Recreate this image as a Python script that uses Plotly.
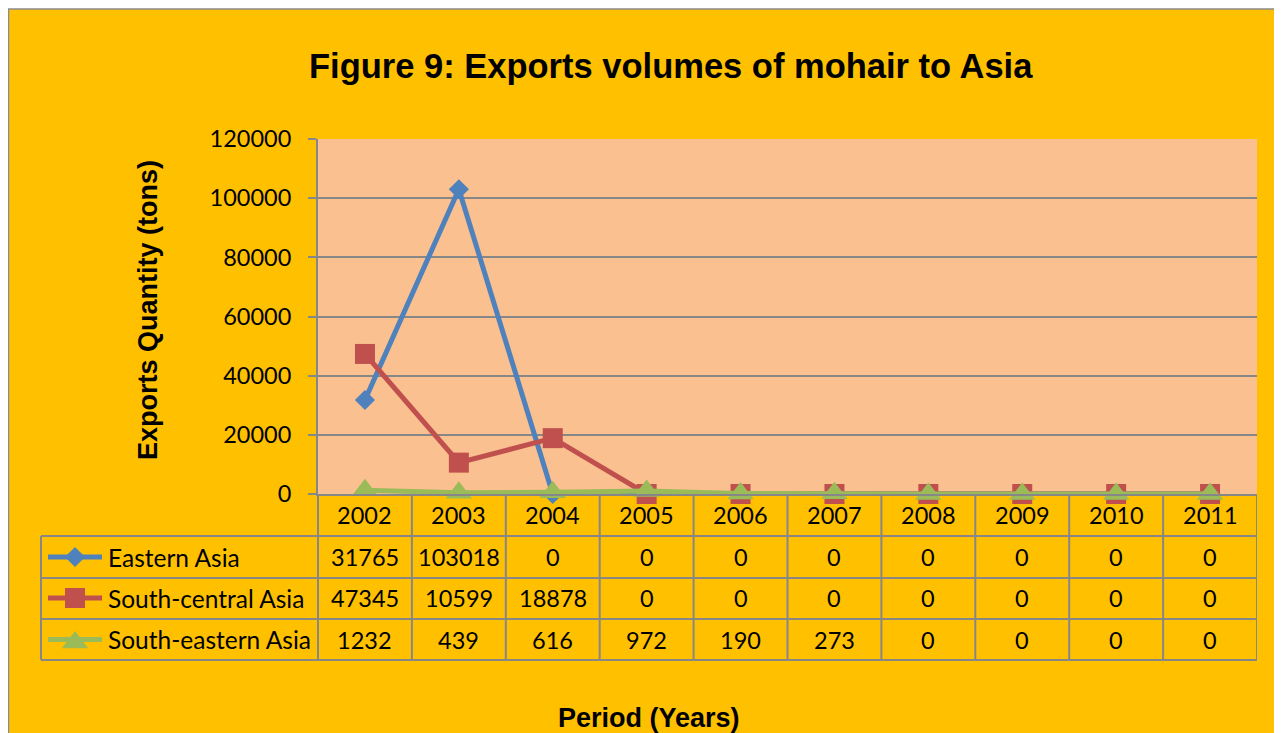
import plotly.graph_objects as go

years = ["2002", "2003", "2004", "2005", "2006", "2007", "2008", "2009", "2010", "2011"]
series_names = ["Eastern Asia", "South-central Asia", "South-eastern Asia"]
eastern_asia = [31765, 103018, 0, 0, 0, 0, 0, 0, 0, 0]
south_central_asia = [47345, 10599, 18878, 0, 0, 0, 0, 0, 0, 0]
south_eastern_asia = [1232, 439, 616, 972, 190, 273, 0, 0, 0, 0]
y_ticks = [0, 20000, 40000, 60000, 80000, 100000, 120000]

W, H = 1282, 733
OFF = 8  # page body margin
def fx(p):
    return (p - OFF) / W
def fy(p):
    return 1 - (p - OFF) / H

GRID = "#878787"
YELLOW = "#FFC000"
PEACH = "#FAC090"
colors = ["#4F81BD", "#C0504D", "#9BBB59"]
symbols = ["diamond", "square", "triangle-up"]
msizes = [15.5, 20, 23]
series = [eastern_asia, south_central_asia, south_eastern_asia]

PL, PR, PT, PB = 318, 1257, 139, 494
row_lines = [536, 578, 619, 660]
row_centers = [557, 598, 639.5]
header_center = 515
xs = list(range(len(years)))

fig = go.Figure()

for name, vals, c, s, ms in zip(series_names, series, colors, symbols, msizes):
    fig.add_trace(go.Scatter(
        x=xs, y=vals, name=name, mode="lines+markers",
        line=dict(color=c, width=5),
        marker=dict(symbol=s, size=ms, color=c, line=dict(width=0)),
        cliponaxis=False, showlegend=False, xaxis="x", yaxis="y",
    ))

# legend keys inside the data table (overlay pixel axes)
for i, (c, s, ms) in enumerate(zip(colors, symbols, msizes)):
    yc = row_centers[i] - OFF
    fig.add_trace(go.Scatter(
        x=[48 - OFF, 75 - OFF, 102 - OFF], y=[yc, yc, yc], mode="lines",
        line=dict(color=c, width=5), showlegend=False,
        xaxis="x2", yaxis="y2", hoverinfo="skip",
    ))
    fig.add_trace(go.Scatter(
        x=[75 - OFF], y=[yc + (3 if s == "triangle-up" else 0)], mode="markers",
        marker=dict(symbol=s, size=ms, color=c, line=dict(width=0)),
        showlegend=False, xaxis="x2", yaxis="y2", hoverinfo="skip",
        cliponaxis=False,
    ))

shapes = []
shapes.append(dict(type="rect", xref="paper", yref="paper",
                   x0=fx(8.5), x1=fx(1310), y0=fy(780), y1=fy(9),
                   fillcolor=YELLOW, line=dict(color="#8C8C8C", width=1.5), layer="below"))
shapes.append(dict(type="rect", xref="x domain", yref="y domain",
                   x0=0, x1=1, y0=0, y1=1, fillcolor=PEACH, line=dict(width=0), layer="below"))
for r in row_lines:
    shapes.append(dict(type="line", xref="paper", yref="paper",
                       x0=fx(41), x1=fx(PR), y0=fy(r), y1=fy(r),
                       line=dict(color=GRID, width=2)))
shapes.append(dict(type="line", xref="paper", yref="paper",
                   x0=fx(41), x1=fx(41), y0=fy(row_lines[0]), y1=fy(row_lines[-1]),
                   line=dict(color=GRID, width=2)))
shapes.append(dict(type="line", xref="paper", yref="paper",
                   x0=fx(PL), x1=fx(PL), y0=fy(PB), y1=fy(row_lines[-1]),
                   line=dict(color=GRID, width=2)))
for k in range(1, len(years) + 1):
    shapes.append(dict(type="line", xref="x", yref="paper",
                       x0=k - 0.5, x1=k - 0.5, y0=fy(PB), y1=fy(row_lines[-1]),
                       line=dict(color=GRID, width=2)))

NUM_FONT = dict(family="Lato, Carlito, sans-serif", size=23.5, color="black")
LBL_FONT = dict(family="Lato, Carlito, sans-serif", size=24.5, color="black")
annotations = []
for i, yr in enumerate(years):
    annotations.append(dict(x=i, y=fy(header_center), xref="x", yref="paper",
                            text=yr, showarrow=False, font=NUM_FONT,
                            xanchor="center", yanchor="middle"))
for j, (name, vals) in enumerate(zip(series_names, series)):
    annotations.append(dict(x=fx(106), y=fy(row_centers[j]), xref="paper", yref="paper",
                            text=name, showarrow=False, font=LBL_FONT,
                            xanchor="left", yanchor="middle"))
    for i, v in enumerate(vals):
        annotations.append(dict(x=i, y=fy(row_centers[j]), xref="x", yref="paper",
                                text=str(v), showarrow=False, font=NUM_FONT,
                                xanchor="center", yanchor="middle"))

annotations.append(dict(x=fx(671), y=fy(66), xref="paper", yref="paper",
                        text="<b>Figure 9: Exports volumes of mohair to Asia</b>",
                        showarrow=False, xanchor="center", yanchor="middle",
                        font=dict(family="Liberation Sans, Arial", size=34.5, color="black")))
annotations.append(dict(x=fx(148), y=fy(310), xref="paper", yref="paper",
                        text="<b>Exports Quantity (tons)</b>", textangle=-90,
                        showarrow=False, xanchor="center", yanchor="middle",
                        font=dict(family="Liberation Sans, Arial", size=27, color="black")))
annotations.append(dict(x=fx(649), y=fy(718), xref="paper", yref="paper",
                        text="<b>Period (Years)</b>",
                        showarrow=False, xanchor="center", yanchor="middle",
                        font=dict(family="Liberation Sans, Arial", size=27, color="black")))

fig.update_layout(
    width=W, height=H,
    margin=dict(l=0, r=0, t=0, b=0, pad=0, autoexpand=False),
    paper_bgcolor="white",
    plot_bgcolor="rgba(0,0,0,0)",
    showlegend=False,
    shapes=shapes,
    annotations=annotations,
    xaxis=dict(domain=[fx(PL), fx(PR)], range=[-0.5, len(years) - 0.5],
               showgrid=False, zeroline=False, showticklabels=False, ticks="",
               showline=True, linecolor=GRID, linewidth=2, fixedrange=True, automargin=False),
    yaxis=dict(domain=[fy(PB), fy(PT)], range=[0, 120000], tickvals=y_ticks,
               ticktext=[str(t) for t in y_ticks],
               showgrid=True, gridcolor=GRID, gridwidth=1.5, zeroline=False,
               showline=True, linecolor=GRID, linewidth=2,
               ticks="outside", ticklen=8, tickcolor=GRID, tickwidth=2,
               ticklabelstandoff=12, automargin=False,
               tickfont=dict(family="Lato, Carlito, sans-serif", size=23.5, color="black"),
               fixedrange=True),
    xaxis2=dict(domain=[0, 1], range=[0, W], visible=False, anchor="y2", fixedrange=True),
    yaxis2=dict(domain=[0, 1], range=[H, 0], visible=False, anchor="x2", fixedrange=True),
)

fig.write_html("out.html")
